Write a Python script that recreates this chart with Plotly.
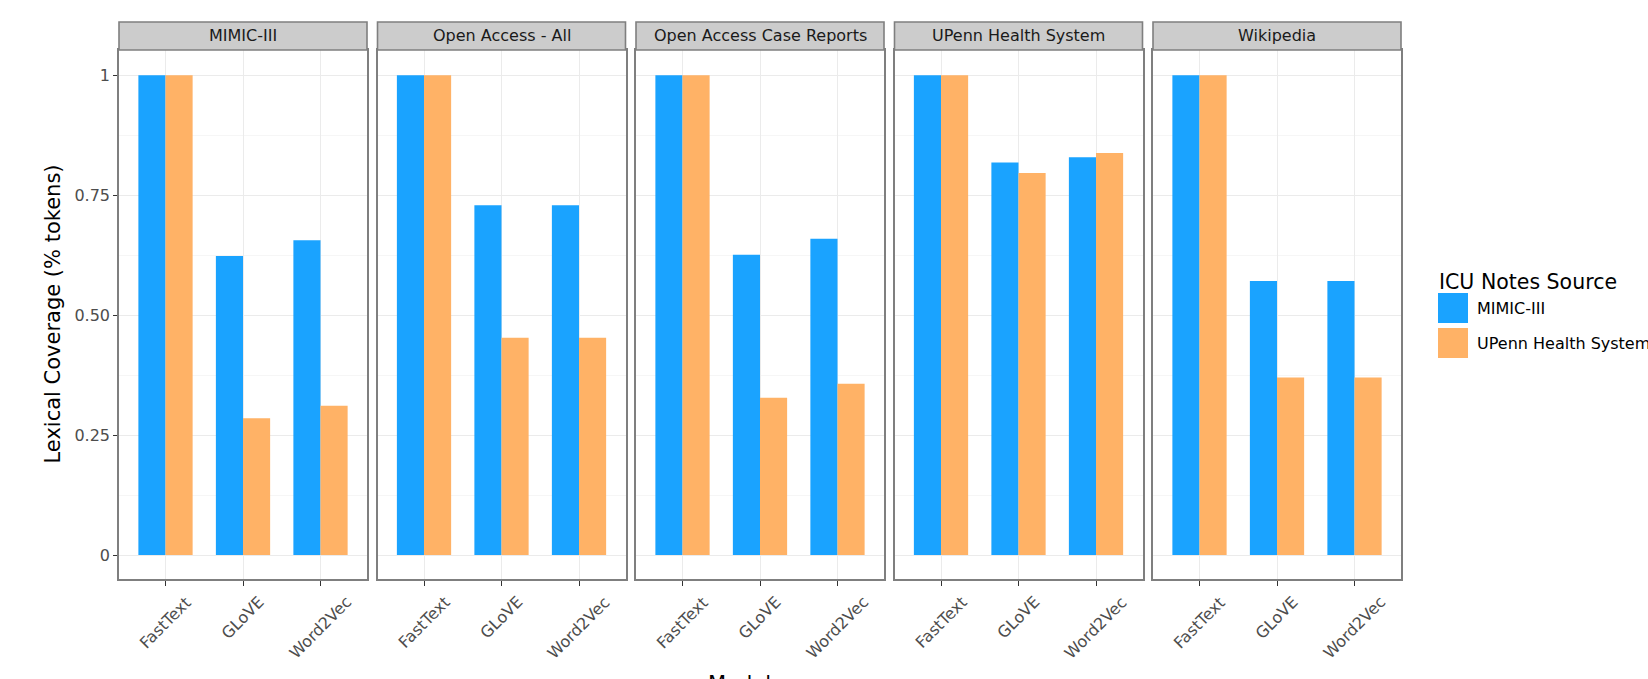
import plotly.graph_objects as go
from plotly.subplots import make_subplots

panels = ["MIMIC-III", "Open Access - All", "Open Access Case Reports", "UPenn Health System", "Wikipedia"]
models = ["FastText", "GLoVE", "Word2Vec"]
series_names = ["MIMIC-III", "UPenn Health System"]
colors = ["#1AA3FF", "#FFB266"]

mimic_vals = {
    "MIMIC-III": [1.0, 0.623, 0.656],
    "Open Access - All": [1.0, 0.729, 0.729],
    "Open Access Case Reports": [1.0, 0.626, 0.659],
    "UPenn Health System": [1.0, 0.818, 0.829],
    "Wikipedia": [1.0, 0.571, 0.571],
}
upenn_vals = {
    "MIMIC-III": [1.0, 0.285, 0.311],
    "Open Access - All": [1.0, 0.453, 0.453],
    "Open Access Case Reports": [1.0, 0.328, 0.357],
    "UPenn Health System": [1.0, 0.796, 0.838],
    "Wikipedia": [1.0, 0.370, 0.370],
}
y_tickvals = [0, 0.25, 0.5, 0.75, 1.0]
y_ticktext = ["0", "0.25", "0.50", "0.75", "1"]

W, H = 1648, 679
ML, MR, MT, MB = 119, 247, 50, 100
PW = W - ML - MR
PH = H - MT - MB
gap = 10.5
pw = (PW - 4 * gap) / 5

FONT = "DejaVu Sans"
fig = make_subplots(rows=1, cols=5, shared_yaxes=True, horizontal_spacing=0.01)

for i, p in enumerate(panels):
    for s, name, vals in [(0, series_names[0], mimic_vals), (1, series_names[1], upenn_vals)]:
        fig.add_trace(go.Bar(x=models, y=vals[p], name=name, marker=dict(color=colors[s], line=dict(width=0)),
                             showlegend=False), row=1, col=i + 1)

annotations = []
shapes = []
strip_top = 1 + (MT - 22) / PH
for i, p in enumerate(panels):
    x0 = (i * (pw + gap)) / PW
    x1 = x0 + pw / PW
    xa = "xaxis" if i == 0 else f"xaxis{i+1}"
    ya = "yaxis" if i == 0 else f"yaxis{i+1}"
    fig.layout[xa].update(domain=[x0, x1], range=[-0.6, 2.6], showline=True, mirror=True,
                          linecolor="#7F7F7F", linewidth=1.6, showgrid=True, gridcolor="#EBEBEB",
                          gridwidth=1, ticks="outside", ticklen=5, tickwidth=1.3, tickcolor="#333333",
                          showticklabels=False)
    fig.layout[ya].update(range=[-0.05, 1.0525], tickmode="array", tickvals=y_tickvals,
                          ticktext=y_ticktext, showline=True, mirror=True, linecolor="#7F7F7F",
                          linewidth=1.6, showgrid=True, gridcolor="#EBEBEB", gridwidth=1, zeroline=False,
                          minor=dict(tickmode="array", tickvals=[0.125, 0.375, 0.625, 0.875],
                                     showgrid=True, gridcolor="#F6F6F6", gridwidth=0.8, ticks=""),
                          ticks="outside" if i == 0 else "", ticklen=4, tickwidth=1.3, tickcolor="#333333",
                          showticklabels=(i == 0),
                          tickfont=dict(family=FONT, size=16, color="#4D4D4D"))
    # strip header
    shapes.append(dict(type="rect", xref="paper", yref="paper", x0=x0, x1=x1, y0=1.0, y1=strip_top,
                       fillcolor="#CCCCCC", line=dict(color="#7F7F7F", width=1.6), layer="above"))
    annotations.append(dict(text=p, xref="paper", yref="paper", x=(x0 + x1) / 2, y=(1 + strip_top) / 2,
                            xanchor="center", yanchor="middle", showarrow=False,
                            font=dict(family=FONT, size=16, color="#1A1A1A")))
    xr = "x" if i == 0 else f"x{i+1}"
    for m in models:
        annotations.append(dict(text=m, xref=xr, yref="paper", x=m, y=0, yshift=-11, xanchor="center",
                                yanchor="top", textangle=-45, showarrow=False,
                                font=dict(family=FONT, size=16, color="#4D4D4D")))

# axis titles
annotations.append(dict(text="Lexical Coverage (% tokens)", xref="paper", yref="paper",
                        x=(52 - ML) / PW, y=0.5, xanchor="center", yanchor="middle", textangle=-90,
                        showarrow=False, font=dict(family=FONT, size=21, color="#000000")))
annotations.append(dict(text="Model", xref="paper", yref="paper", x=(739 - ML) / PW,
                        y=-(670 - MT - PH) / PH, xanchor="center", yanchor="top",
                        showarrow=False, font=dict(family=FONT, size=21, color="#000000")))

# legend (drawn manually)
def px_x(v):
    return (v - ML) / PW

def px_y(v):
    return 1 - (v - MT) / PH

annotations.append(dict(text="ICU Notes Source", xref="paper", yref="paper", x=px_x(1437), y=px_y(268),
                        xanchor="left", yanchor="top", showarrow=False,
                        font=dict(family=FONT, size=20.5, color="#000000")))
for k, (name, col) in enumerate(zip(series_names, colors)):
    top = 293 + k * 35
    shapes.append(dict(type="rect", xref="paper", yref="paper", x0=px_x(1438), x1=px_x(1468),
                       y0=px_y(top + 30), y1=px_y(top), fillcolor=col, line=dict(width=0)))
    annotations.append(dict(text=name, xref="paper", yref="paper", x=px_x(1475), y=px_y(top + 15),
                            xanchor="left", yanchor="middle", showarrow=False,
                            font=dict(family=FONT, size=16, color="#000000")))

fig.update_layout(width=W, height=H, margin=dict(l=ML, r=MR, t=MT, b=MB, autoexpand=False),
                  barmode="group", bargap=0.3, bargroupgap=0, plot_bgcolor="white",
                  paper_bgcolor="white", annotations=annotations, shapes=shapes, showlegend=False,
                  font=dict(family=FONT))
fig.write_html("out.html")
